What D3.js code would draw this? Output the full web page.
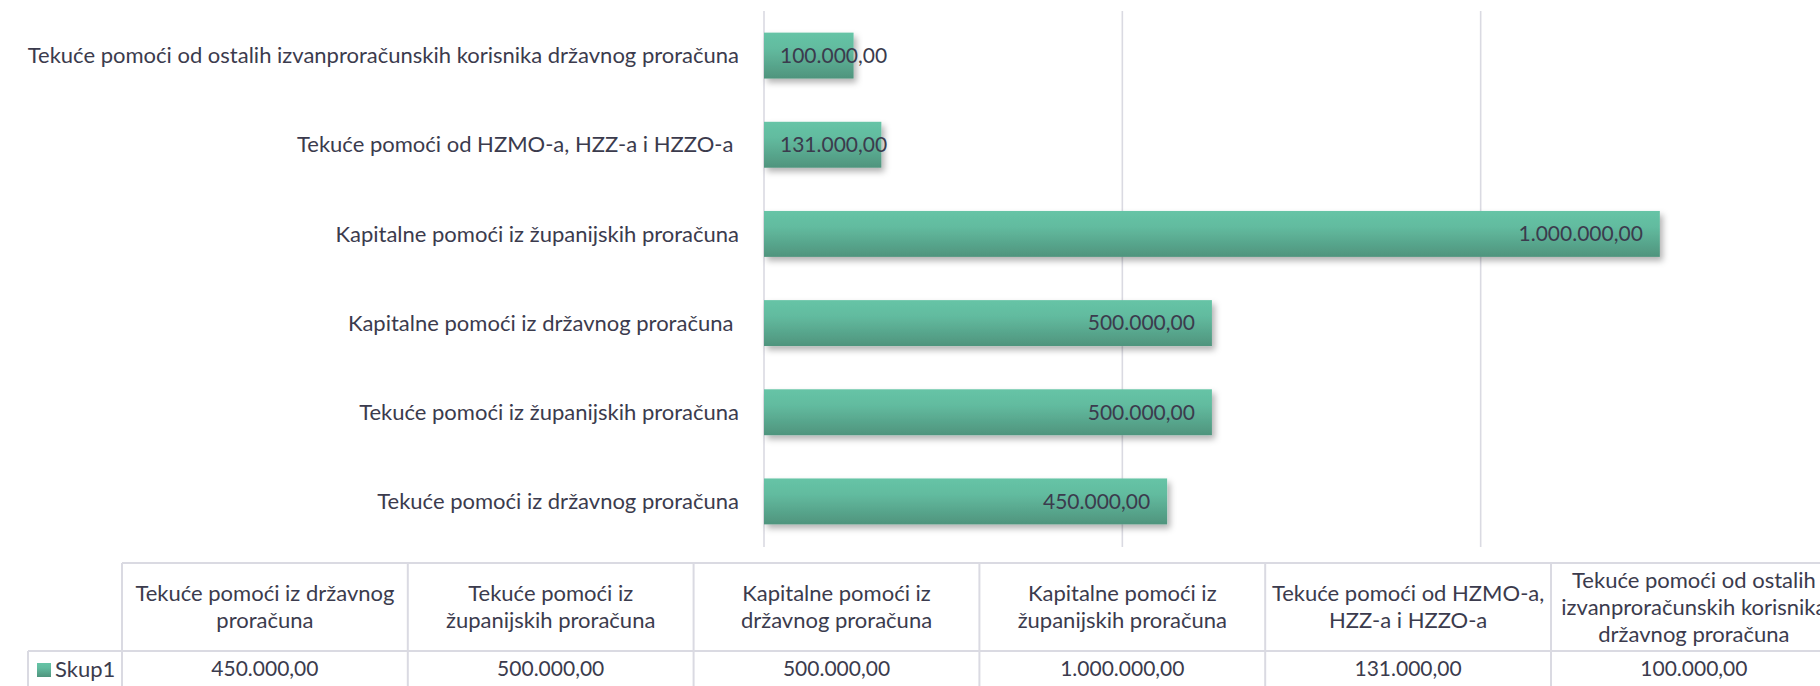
<!DOCTYPE html>
<html lang="hr">
<head>
  <meta charset="UTF-8">
  <script src="https://d3js.org/d3.v7.min.js"></script>
  <style>
    body { margin: 0; background: #fff; }
    text { font-family: Lato, "Open Sans", sans-serif; fill: #3b3b4d; }
  </style>
</head>
<body>
  <div id="chart"></div>
  <script>
    // categories in data order (first one is drawn at the bottom)
    const categories = [
      "Tekuće pomoći iz državnog proračuna",
      "Tekuće pomoći iz županijskih proračuna",
      "Kapitalne pomoći iz državnog proračuna ",
      "Kapitalne pomoći iz županijskih proračuna",
      "Tekuće pomoći od HZMO-a, HZZ-a i HZZO-a ",
      "Tekuće pomoći od ostalih izvanproračunskih korisnika državnog proračuna"
    ];
    const values = [450000, 500000, 500000, 1000000, 131000, 100000];
    const seriesName = "Skup1";
    const xTicks = [0, 400000, 800000, 1200000];
    // header lines of the data table
    const headerLines = [
      ["Tekuće pomoći iz državnog", "proračuna"],
      ["Tekuće pomoći iz", "županijskih proračuna"],
      ["Kapitalne pomoći iz", "državnog proračuna"],
      ["Kapitalne pomoći iz", "županijskih proračuna"],
      ["Tekuće pomoći od HZMO-a,", "HZZ-a i HZZO-a"],
      ["Tekuće pomoći od ostalih", "izvanproračunskih korisnika", "državnog proračuna"]
    ];

    const W = 1820, H = 686;
    const fs = 22;      // words
    const fsNum = 21;   // numbers
    const gridColor = "#dadae2";

    const hr = d3.formatLocale({ decimal: ",", thousands: ".", grouping: [3], currency: ["", ""] });
    const fmt = hr.format(",.2f");

    const svg = d3.select("#chart").append("svg")
      .attr("width", W).attr("height", H);

    const defs = svg.append("defs");
    const grad = defs.append("linearGradient")
      .attr("id", "barGrad").attr("x1", 0).attr("y1", 0).attr("x2", 0).attr("y2", 1);
    grad.append("stop").attr("offset", "0%").attr("stop-color", "#66c4a6");
    grad.append("stop").attr("offset", "35%").attr("stop-color", "#62bb9f");
    grad.append("stop").attr("offset", "100%").attr("stop-color", "#4f947d");

    const shadow = defs.append("filter").attr("id", "shadow")
      .attr("x", "-5%").attr("y", "-20%").attr("width", "115%").attr("height", "160%");
    shadow.append("feDropShadow")
      .attr("dx", 3).attr("dy", 4).attr("stdDeviation", 3)
      .attr("flood-color", "#000").attr("flood-opacity", 0.3);

    const x = d3.scaleLinear().domain([0, 1200000]).range([764, 1839]);
    const y = d3.scaleBand()
      .domain(categories.slice().reverse())
      .range([11, 546])
      .paddingInner(0.485)
      .paddingOuter(0.2425);

    // vertical gridlines
    svg.append("g")
      .selectAll("line")
      .data(xTicks)
      .join("line")
      .attr("x1", d => x(d)).attr("x2", d => x(d))
      .attr("y1", 11).attr("y2", 547)
      .attr("stroke", gridColor)
      .attr("stroke-width", 1.6);

    // bars
    const bars = svg.append("g")
      .selectAll("g")
      .data(categories.map((c, i) => ({ c, v: values[i] })))
      .join("g");

    bars.append("rect")
      .attr("x", x(0))
      .attr("y", d => y(d.c))
      .attr("width", d => x(d.v) - x(0))
      .attr("height", y.bandwidth())
      .attr("fill", "url(#barGrad)")
      .attr("filter", "url(#shadow)");

    // data labels, inside end
    bars.append("text")
      .attr("y", d => y(d.c) + y.bandwidth() / 2)
      .attr("dy", "0.35em")
      .attr("text-anchor", "end")
      .style("font-size", fsNum + "px")
      .text(d => fmt(d.v))
      .attr("x", function(d) {
        const w = this.getComputedTextLength();
        return Math.max(x(d.v) - 17, x(0) + 16 + w);
      });

    // category labels
    svg.append("g")
      .selectAll("text")
      .data(categories)
      .join("text")
      .attr("x", 739)
      .attr("y", d => y(d) + y.bandwidth() / 2)
      .attr("dy", "0.35em")
      .attr("text-anchor", "end")
      .style("font-size", fs + "px")
      .style("white-space", "pre")
      .text(d => d);

    // data table
    const col = d3.scaleBand().domain(categories).range([122, 122 + 6 * 285.8]);
    const tTop = 563, tMid = 651, tBot = 700, legLeft = 28;
    const tbl = svg.append("g")
      .attr("stroke", gridColor).attr("stroke-width", 2).attr("fill", "none");

    tbl.append("line").attr("x1", 122).attr("x2", W).attr("y1", tTop).attr("y2", tTop);
    tbl.append("line").attr("x1", legLeft).attr("x2", W).attr("y1", tMid).attr("y2", tMid);
    tbl.append("line").attr("x1", legLeft).attr("x2", legLeft).attr("y1", tMid).attr("y2", tBot);
    tbl.selectAll(".vdiv")
      .data(categories)
      .join("line")
      .attr("x1", d => col(d)).attr("x2", d => col(d))
      .attr("y1", tTop).attr("y2", tBot);
    tbl.append("line")
      .attr("x1", col.range()[1]).attr("x2", col.range()[1])
      .attr("y1", tTop).attr("y2", tBot);

    // header text
    const heads = svg.append("g")
      .selectAll("text")
      .data(categories.map((c, i) => ({ c, lines: headerLines[i] })))
      .join("text")
      .attr("text-anchor", "middle")
      .style("font-size", fs + "px");
    heads.selectAll("tspan")
      .data(d => d.lines.map((l, i) => ({ l, i, n: d.lines.length, c: d.c })))
      .join("tspan")
      .attr("x", d => col(d.c) + col.bandwidth() / 2)
      .attr("y", d => (tTop + tMid) / 2 + (d.i - (d.n - 1) / 2) * 27)
      .attr("dy", "0.35em")
      .text(d => d.l);

    // values row
    svg.append("g")
      .selectAll("text")
      .data(categories.map((c, i) => ({ c, v: values[i] })))
      .join("text")
      .attr("x", d => col(d.c) + col.bandwidth() / 2)
      .attr("y", 669)
      .attr("dy", "0.35em")
      .attr("text-anchor", "middle")
      .style("font-size", fsNum + "px")
      .text(d => fmt(d.v));

    // legend key
    svg.append("rect")
      .attr("x", 37).attr("y", 663)
      .attr("width", 14).attr("height", 14)
      .attr("fill", "url(#barGrad)");
    svg.append("text")
      .attr("x", 55).attr("y", 669)
      .attr("dy", "0.35em")
      .style("font-size", fs + "px")
      .text(seriesName);
  </script>
</body>
</html>
